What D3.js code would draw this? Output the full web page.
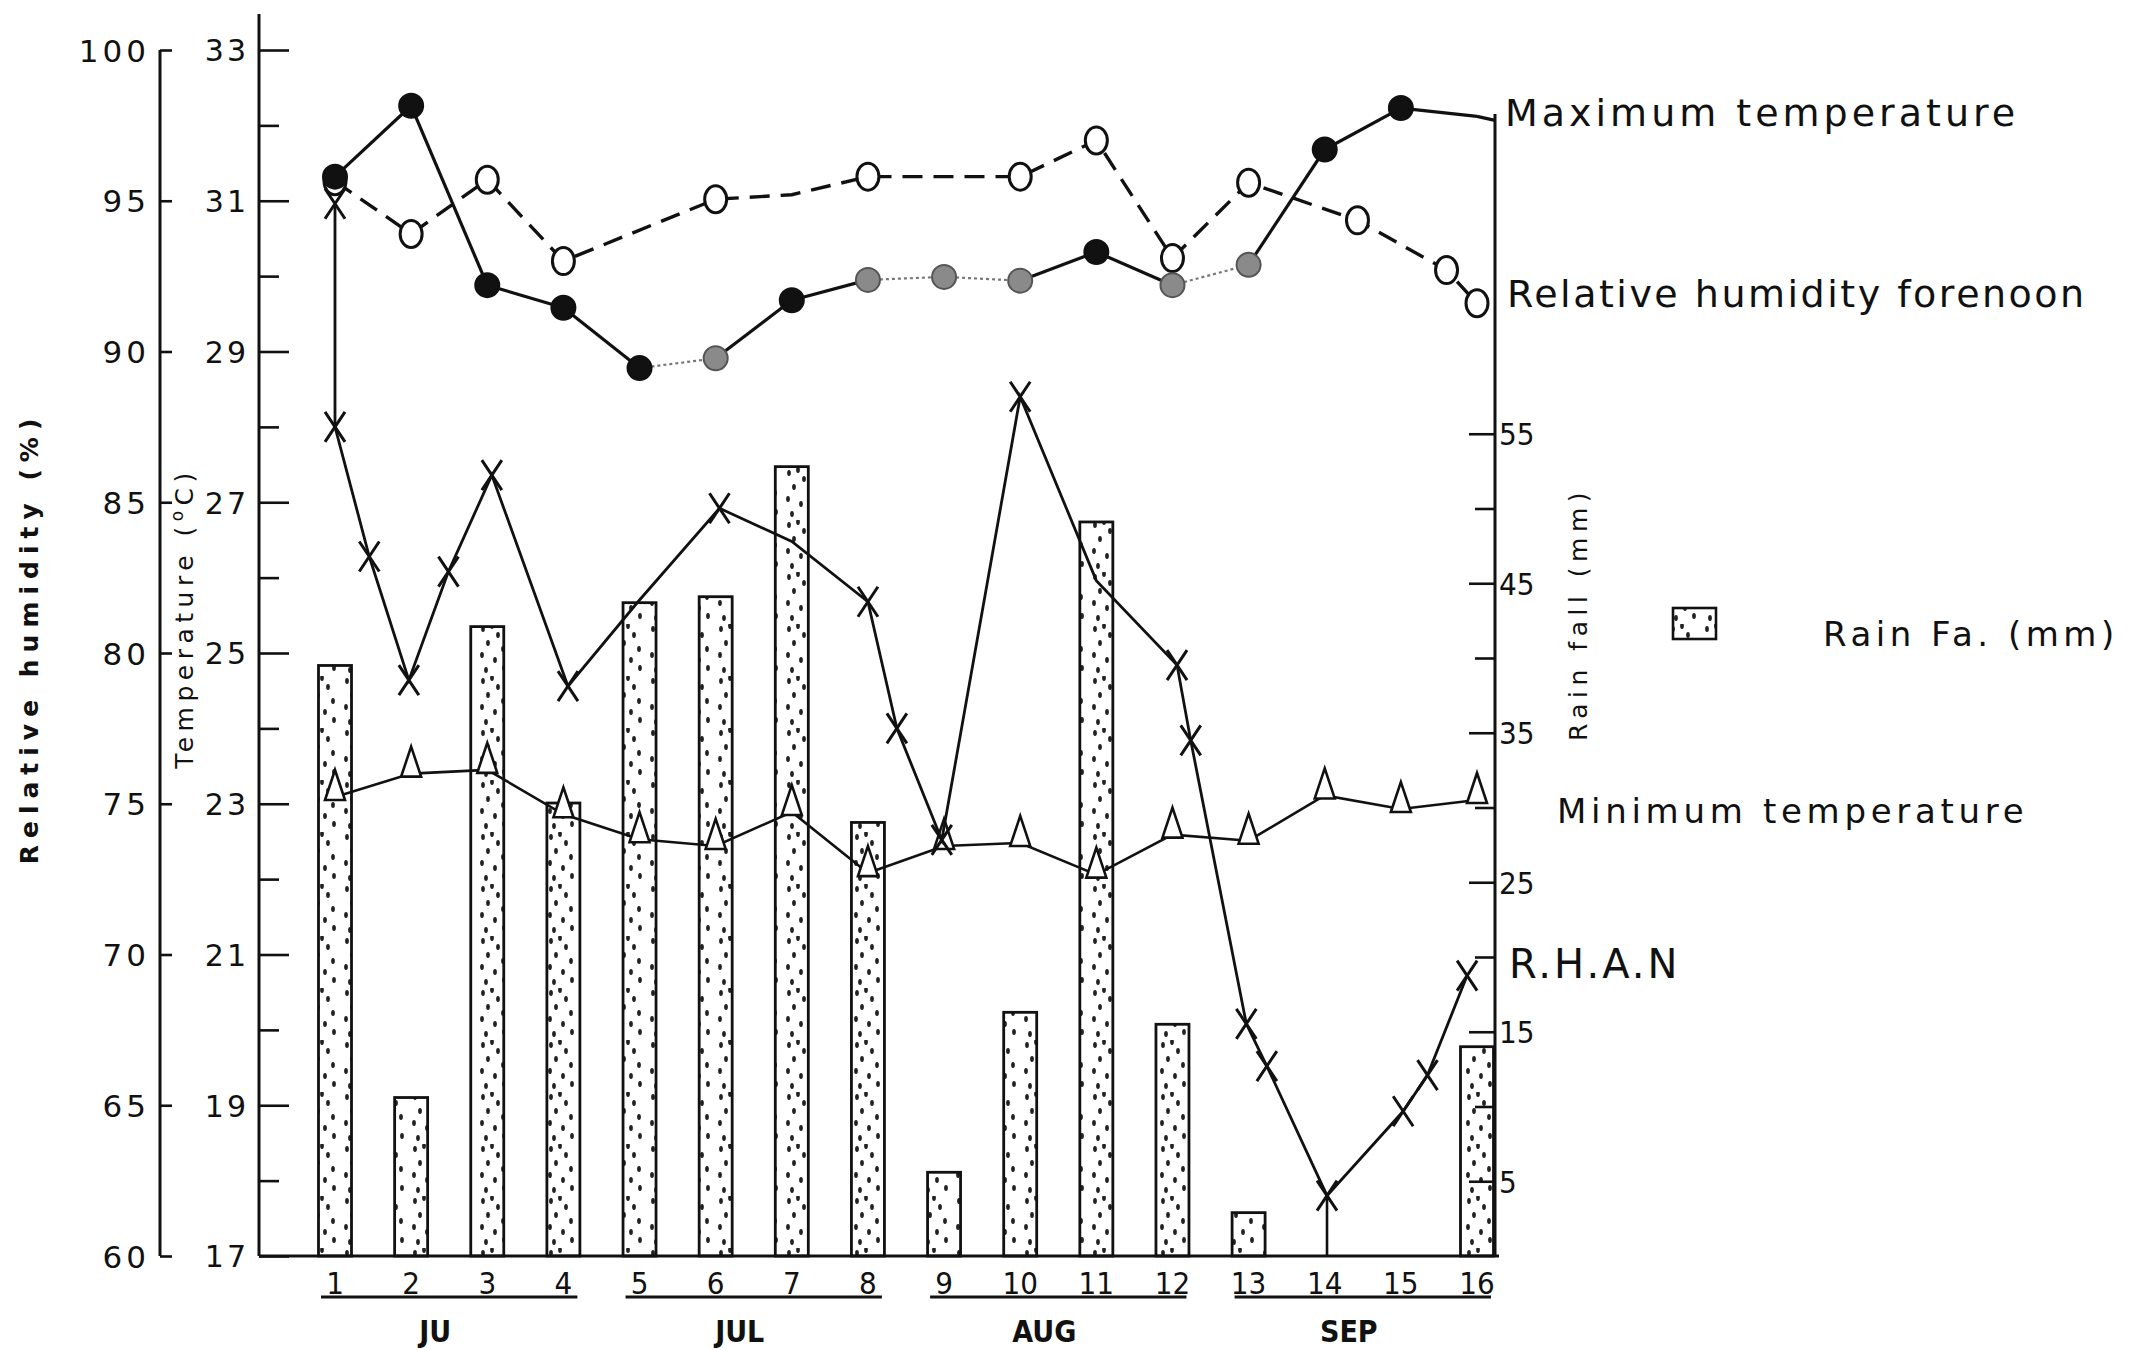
<!DOCTYPE html>
<html lang="en">
<head>
<meta charset="UTF-8">
<title>Weather chart</title>
<script src="https://d3js.org/d3.v7.min.js"></script>
<style>
    body { margin: 0; padding: 0; background: #fff; }
    svg { display: block; background: #fff; }
    text { fill: #111; font-family: 'DejaVu Sans', sans-serif; }
    .tick line { stroke: #111; stroke-width: 2.6px; }
    .axisline { stroke: #111; stroke-width: 3px; }
    .legend { font-size: 38px; letter-spacing: 2.5px; }
    .xlab { font-family: 'DejaVu Sans Condensed', 'Liberation Sans Narrow', sans-serif; font-size: 31px; }
    .month { font-family: 'DejaVu Sans Condensed', 'Liberation Sans Narrow', sans-serif; font-size: 30px; font-weight: bold; }
</style>
</head>
<body>
<svg width="2141" height="1350"></svg>

<script>
// weeks along the bottom
var weeks = d3.range(1, 17);
var months = ["JU", "JUL", "AUG", "SEP"];
var monthWeeks = [[1, 4], [5, 8], [9, 12], [13, 16]];

// rainfall (mm) per week
var rainfall = [39.5, 10.6, 42.1, 30.3, 43.7, 44.1, 52.8, 29.0, 5.6, 16.3, 49.1, 15.5, 2.9, 0, 0, 14.0];

// maximum / minimum temperature (deg C) per week
var maxTemp = [31.32, 32.26, 29.88, 29.58, 28.78, 28.91, 29.68, 29.95, 29.99, 29.94, 30.32, 29.88, 30.15, 31.68, 32.23, 32.12];
var maxFaintMarkers = [6, 8, 9, 10, 12, 13];
var maxFaintSegments = [5, 8, 9, 12];   // segment starting at this week is drawn faint
var maxUnmarked = [16];
var minTemp = [23.09, 23.40, 23.45, 22.86, 22.53, 22.44, 22.89, 22.08, 22.44, 22.48, 22.06, 22.59, 22.51, 23.11, 22.93, 23.05];

// relative humidity forenoon (%)
var rhFnWeek = [1, 2, 3, 4, 6, 7, 8, 10, 11, 12, 13, 14.43, 15.6, 16];
var rhFn = [95.65, 93.9, 95.7, 93.0, 95.05, 95.2, 95.8, 95.8, 97.0, 93.1, 95.6, 94.35, 92.7, 91.6];
var rhFnMarked = [1, 1, 1, 1, 1, 0, 1, 1, 1, 1, 1, 1, 1, 1];

// relative humidity afternoon (%)
var rhAnWeek = [1, 1, 1.45, 1.97, 2.49, 3.06, 4.06, 4.98, 6.05, 7.0, 8.0, 8.38, 8.97, 10.0, 11.0, 12.06, 12.24, 12.97, 13.24, 14.03, 15.03, 15.35, 15.87];
var rhAn = [94.9, 87.5, 83.2, 79.1, 82.7, 85.9, 78.9, 81.7, 84.8, 83.7, 81.7, 77.5, 73.8, 88.5, 82.4, 79.6, 77.1, 67.7, 66.3, 62.0, 64.8, 66.0, 69.3];
var rhAnMarked = [1, 1, 1, 1, 1, 1, 1, 0, 1, 0, 1, 1, 1, 1, 0, 1, 1, 1, 1, 1, 1, 1, 1];

// axis ticks
var rhTicks = d3.range(60, 101, 5);
var tempTicks = d3.range(17, 34);
var rainTicks = d3.range(5, 56, 5);

var legendLabels = ["Maximum temperature", "Relative humidity forenoon", "Rain Fa. (mm)", "Minimum temperature", "R.H.A.N"];

// ---- layout
var rhAxisX = 160, tempAxisX = 259, rainAxisX = 1495;
var plotTop = 50, plotBottom = 1256;

var svg = d3.select("svg");

var x = d3.scaleLinear().domain([1, 16]).range([335, 1477]);
var yT = d3.scaleLinear().domain([17, 33]).range([plotBottom, plotTop]);
var yRH = d3.scaleLinear().domain([60, 100]).range([plotBottom, plotTop]);
var yR = d3.scaleLinear().domain([0, 55]).range([plotBottom, plotBottom - 55 * 14.95]);

// stipple pattern for the rain bars
var defs = svg.append("defs");
var pat = defs.append("pattern")
    .attr("id", "stipple")
    .attr("patternUnits", "userSpaceOnUse")
    .attr("width", 34).attr("height", 52);
var dots = [[7, 5], [22, 11], [12, 19], [27, 25], [6, 31], [19, 36], [28, 44], [10, 46], [16, 2]];
dots.forEach(function(p) {
    pat.append("ellipse").attr("cx", p[0]).attr("cy", p[1])
        .attr("rx", 1.9).attr("ry", 3).attr("fill", "#222");
});

// ---- bars
var barW = 33;
svg.append("g").selectAll("rect")
    .data(weeks.filter(function(w) { return rainfall[w - 1] > 0; }))
    .enter().append("rect")
    .attr("x", function(w) { return x(w) - barW / 2; })
    .attr("y", function(w) { return yR(rainfall[w - 1]); })
    .attr("width", barW)
    .attr("height", function(w) { return yR(0) - yR(rainfall[w - 1]); })
    .attr("fill", "url(#stipple)")
    .attr("stroke", "#111")
    .attr("stroke-width", 2.8);

// ---- axes
// relative humidity (left)
var rhAxis = svg.append("g")
    .attr("transform", "translate(" + rhAxisX + ",0)")
    .call(d3.axisRight(yRH).tickValues(rhTicks).tickSize(12).tickSizeOuter(0));
rhAxis.select(".domain").remove();
rhAxis.selectAll("text")
    .attr("x", -10).attr("dy", "0.36em")
    .style("text-anchor", "end")
    .style("font-size", "31px")
    .style("letter-spacing", "4px")
    .style("font-family", "'DejaVu Sans', sans-serif");
svg.append("line").attr("class", "axisline")
    .attr("x1", rhAxisX).attr("x2", rhAxisX)
    .attr("y1", yRH(100)).attr("y2", yRH(60));

// temperature
var tAxis = svg.append("g")
    .attr("transform", "translate(" + tempAxisX + ",0)")
    .call(d3.axisRight(yT).tickValues(tempTicks).tickSizeOuter(0)
        .tickFormat(function(d) { return d % 2 ? d : ""; }));
tAxis.select(".domain").remove();
tAxis.selectAll(".tick line").attr("x2", function(d) { return d % 2 ? 30 : 20; });
tAxis.selectAll("text")
    .attr("x", -10).attr("dy", "0.36em")
    .style("text-anchor", "end")
    .style("font-size", "30px")
    .style("letter-spacing", "3px")
    .style("font-family", "'DejaVu Sans', sans-serif");
svg.append("line").attr("class", "axisline")
    .attr("x1", tempAxisX).attr("x2", tempAxisX)
    .attr("y1", plotTop - 36).attr("y2", plotBottom);

// rainfall (right)
var rAxis = svg.append("g")
    .attr("transform", "translate(" + rainAxisX + ",0)")
    .call(d3.axisRight(yR).tickValues(rainTicks).tickSizeInner(-26).tickSizeOuter(0).tickPadding(4)
        .tickFormat(function(d) { return d % 10 ? d : ""; }));
rAxis.select(".domain").remove();
rAxis.selectAll(".tick line").attr("x2", function(d) { return d % 10 ? -26 : -20; });
rAxis.selectAll("text")
    .attr("dy", "0.36em")
    .style("font-size", "31px")
    .style("font-family", "'DejaVu Sans Condensed', 'DejaVu Sans', sans-serif");
svg.append("line").attr("class", "axisline")
    .attr("x1", rainAxisX).attr("x2", rainAxisX)
    .attr("y1", yT(32.15)).attr("y2", plotBottom);

// baseline
svg.append("line").attr("class", "axisline")
    .attr("x1", tempAxisX).attr("x2", rainAxisX + 4)
    .attr("y1", plotBottom).attr("y2", plotBottom);

// axis titles
svg.append("text")
    .attr("transform", "translate(38," + 638 + ") rotate(-90)")
    .attr("text-anchor", "middle")
    .style("font-size", "25px").style("font-weight", "bold").style("letter-spacing", "7px")
    .text("Relative humidity (%)");

var tt = svg.append("text")
    .attr("transform", "translate(193," + 618 + ") rotate(-90)")
    .attr("text-anchor", "middle")
    .style("font-size", "25px").style("letter-spacing", "5.5px");
tt.append("tspan").text("Temperature (");
tt.append("tspan").attr("dy", -10).style("font-size", "17px").text("o");
tt.append("tspan").attr("dy", 10).text("C)");

svg.append("text")
    .attr("transform", "translate(1587," + 614 + ") rotate(-90)")
    .attr("text-anchor", "middle")
    .style("font-size", "25px").style("letter-spacing", "5.5px")
    .text("Rain fall (mm)");

// ---- x labels and months
svg.append("g").selectAll("text")
    .data(weeks).enter().append("text")
    .attr("class", "xlab")
    .attr("x", function(w) { return x(w); })
    .attr("y", plotBottom + 38)
    .attr("text-anchor", "middle")
    .text(function(w) { return w; });

monthWeeks.forEach(function(r, i) {
    svg.append("line")
        .attr("x1", x(r[0]) - 14).attr("x2", x(r[1]) + 14)
        .attr("y1", plotBottom + 41).attr("y2", plotBottom + 41)
        .attr("stroke", "#111").attr("stroke-width", 3);
    svg.append("text")
        .attr("class", "month")
        .attr("x", (x(r[0]) + x(r[1])) / 2 - 14)
        .attr("y", plotBottom + 86)
        .attr("text-anchor", "middle")
        .text(months[i]);
});

// ---- minimum temperature (triangles)
var minPts = weeks.map(function(w) { return [x(w), yT(minTemp[w - 1])]; });
svg.append("path")
    .attr("d", d3.line()(minPts))
    .attr("fill", "none").attr("stroke", "#111").attr("stroke-width", 2.6);
svg.append("g").selectAll("path")
    .data(minPts).enter().append("path")
    .attr("d", function(p) {
        return "M" + (p[0] - 10) + "," + (p[1] + 3) + "L" + p[0] + "," + (p[1] - 27) + "L" + (p[0] + 10) + "," + (p[1] + 3) + "Z";
    })
    .attr("fill", "#fff").attr("stroke", "#111").attr("stroke-width", 2.6);

// ---- relative humidity afternoon (crosses)
var anPts = rhAnWeek.map(function(w, i) { return [x(w), yRH(rhAn[i])]; });
svg.append("path")
    .attr("d", d3.line()(anPts))
    .attr("fill", "none").attr("stroke", "#111").attr("stroke-width", 2.8);
// drop line at the lowest point
var lowI = d3.minIndex(rhAn);
svg.append("line")
    .attr("x1", anPts[lowI][0]).attr("x2", anPts[lowI][0])
    .attr("y1", anPts[lowI][1]).attr("y2", plotBottom)
    .attr("stroke", "#111").attr("stroke-width", 2.6);
svg.append("g").selectAll("path")
    .data(anPts.filter(function(p, i) { return rhAnMarked[i]; }))
    .enter().append("path")
    .attr("d", function(p) {
        return "M" + (p[0] - 10) + "," + (p[1] - 15) + "L" + (p[0] + 10) + "," + (p[1] + 15)
            + "M" + (p[0] + 10) + "," + (p[1] - 15) + "L" + (p[0] - 10) + "," + (p[1] + 15);
    })
    .attr("fill", "none").attr("stroke", "#111").attr("stroke-width", 3);

// ---- relative humidity forenoon (open circles, dashed)
var fnPts = rhFnWeek.map(function(w, i) { return [x(w), yRH(rhFn[i])]; });
svg.append("path")
    .attr("d", d3.line()(fnPts))
    .attr("fill", "none").attr("stroke", "#111").attr("stroke-width", 3.4)
    .attr("stroke-dasharray", "20,11");
svg.append("g").selectAll("ellipse")
    .data(fnPts.filter(function(p, i) { return rhFnMarked[i]; }))
    .enter().append("ellipse")
    .attr("cx", function(p) { return p[0]; })
    .attr("cy", function(p) { return p[1]; })
    .attr("rx", 11).attr("ry", 13.5)
    .attr("fill", "#fff").attr("stroke", "#111").attr("stroke-width", 3);

// ---- maximum temperature (filled circles)
var maxPts = weeks.map(function(w) { return [x(w), yT(maxTemp[w - 1])]; });
svg.append("g").selectAll("line")
    .data(weeks.slice(0, -1)).enter().append("line")
    .attr("x1", function(w) { return maxPts[w - 1][0]; })
    .attr("y1", function(w) { return maxPts[w - 1][1]; })
    .attr("x2", function(w) { return maxPts[w][0]; })
    .attr("y2", function(w) { return maxPts[w][1]; })
    .attr("stroke", function(w) { return maxFaintSegments.indexOf(w) >= 0 ? "#777" : "#111"; })
    .attr("stroke-width", function(w) { return maxFaintSegments.indexOf(w) >= 0 ? 2.2 : 3.2; })
    .attr("stroke-dasharray", function(w) { return maxFaintSegments.indexOf(w) >= 0 ? "3,3" : null; });
// line runs on to the right axis
svg.append("line")
    .attr("x1", maxPts[15][0]).attr("y1", maxPts[15][1])
    .attr("x2", rainAxisX).attr("y2", maxPts[15][1] + 4)
    .attr("stroke", "#111").attr("stroke-width", 3.2);
svg.append("g").selectAll("circle")
    .data(weeks.filter(function(w) { return maxUnmarked.indexOf(w) < 0; }))
    .enter().append("circle")
    .attr("cx", function(w) { return maxPts[w - 1][0]; })
    .attr("cy", function(w) { return maxPts[w - 1][1]; })
    .attr("r", 12)
    .attr("fill", function(w) { return maxFaintMarkers.indexOf(w) >= 0 ? "#8a8a8a" : "#111"; })
    .attr("stroke", function(w) { return maxFaintMarkers.indexOf(w) >= 0 ? "#555" : "#111"; })
    .attr("stroke-width", 2);

// ---- legend
var legendPos = [[1505, 126], [1507, 307], [1823, 646], [1557, 823], [1509, 978]];
legendLabels.forEach(function(t, i) {
    var el = svg.append("text")
        .attr("class", "legend")
        .attr("x", legendPos[i][0]).attr("y", legendPos[i][1])
        .text(t);
    if (i === 0) el.style("letter-spacing", "4px");
    if (i === 2) el.style("font-size", "34px").style("letter-spacing", "4.5px");
    if (i === 3) el.style("font-size", "34px").style("letter-spacing", "4.7px");
    if (i === 4) el.style("font-size", "40px").style("letter-spacing", "3px");
});
svg.append("rect")
    .attr("x", 1673).attr("y", 608).attr("width", 43).attr("height", 31)
    .attr("fill", "url(#stipple)").attr("stroke", "#111").attr("stroke-width", 2.6);
</script>
</body>
</html>
